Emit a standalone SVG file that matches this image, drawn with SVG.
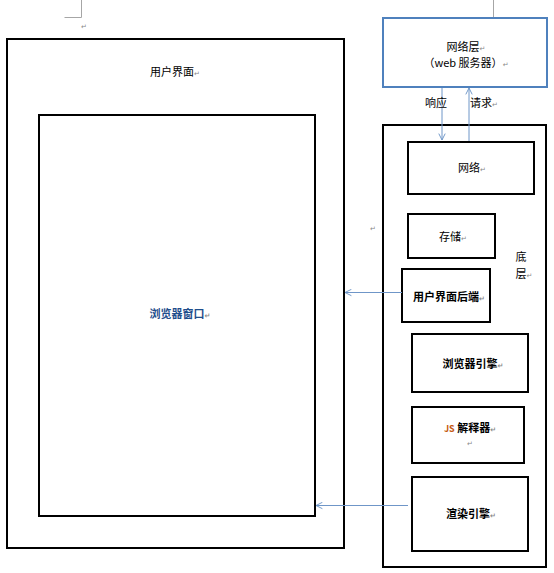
<svg xmlns="http://www.w3.org/2000/svg" width="554" height="573" viewBox="0 0 554 573">
<defs>
<style>
.box{fill:#fff;stroke:#000;stroke-width:2}
.blue{fill:#fff;stroke:#4f81bd;stroke-width:2}
.t{font-family:"Noto Sans CJK SC","Liberation Sans",sans-serif;font-size:11px;fill:#000;text-anchor:middle}
.b{font-weight:bold}
.pm{font-family:"DejaVu Sans",sans-serif;font-size:7px;fill:#888}
.crop{stroke:#a6a6a6;stroke-width:1;fill:none}
.con{stroke:#6f96c8;stroke-width:1;fill:none}
</style>
<marker id="ah" viewBox="0 0 10 10" refX="9" refY="5" markerWidth="8" markerHeight="8" orient="auto" markerUnits="userSpaceOnUse">
<path d="M1,1 L9,5 L1,9" fill="none" stroke="#6f96c8" stroke-width="1.2"/>
</marker>
</defs>
<rect width="554" height="573" fill="#fff"/>
<path class="crop" d="M64.5,17.5 H81.5 V0"/>
<path class="crop" d="M493.5,0 V17.5 H510"/>
<text class="pm" x="81" y="29">↵</text>
<text class="pm" x="370" y="231">↵</text>

<g id="ui">
<rect class="box" x="7" y="39" width="337" height="509"/>
<text class="t" x="175" y="76">用户界面<tspan class="pm">↵</tspan></text>
</g>
<g id="window">
<rect class="box" x="39" y="115" width="276" height="401"/>
<text class="t b" x="180" y="318" style="fill:#1f4e8c">浏览器窗口<tspan class="pm">↵</tspan></text>
</g>
<g id="network-layer">
<rect class="blue" x="383" y="18" width="164" height="69"/>
<text class="t" x="466" y="51">网络层<tspan class="pm">↵</tspan></text>
<text class="t" x="466" y="67">（web 服务器）<tspan class="pm">↵</tspan></text>
</g>
<g id="bottom-layer">
<rect class="box" x="383" y="125" width="163" height="442"/>
<text class="t" x="521" y="261">底</text>
<text class="t" x="524" y="278">层<tspan class="pm">↵</tspan></text>
</g>
<g id="net">
<rect class="box" x="408" y="142" width="126" height="52"/>
<text class="t" x="472" y="172">网络<tspan class="pm">↵</tspan></text>
</g>
<g id="storage">
<rect class="box" x="408" y="214" width="87" height="44"/>
<text class="t" x="453" y="241">存储<tspan class="pm">↵</tspan></text>
</g>
<g id="ui-backend">
<rect class="box" x="402" y="269" width="88" height="53"/>
<text class="t b" x="449" y="301">用户界面后端<tspan class="pm">↵</tspan></text>
</g>
<g id="browser-engine">
<rect class="box" x="412" y="334" width="116" height="58"/>
<text class="t b" x="473" y="368">浏览器引擎<tspan class="pm">↵</tspan></text>
</g>
<g id="js">
<rect class="box" x="412" y="407" width="112" height="56"/>
<text class="t b" x="470" y="432"><tspan style="font-size:9px;fill:#c55a11">JS</tspan> 解释器<tspan class="pm">↵</tspan></text>
<text class="pm" x="467" y="446">↵</text>
</g>
<g id="render">
<rect class="box" x="412" y="477" width="116" height="74"/>
<text class="t b" x="471" y="518">渲染引擎<tspan class="pm">↵</tspan></text>
</g>

<g id="connectors">
<line class="con" x1="442" y1="88" x2="442" y2="140" marker-end="url(#ah)"/>
<line class="con" x1="469" y1="141" x2="469" y2="88" marker-end="url(#ah)"/>
<line class="con" x1="402" y1="292.5" x2="345" y2="292.5" marker-end="url(#ah)"/>
<line class="con" x1="408" y1="505.5" x2="316" y2="505.5" marker-end="url(#ah)"/>
<text class="t" x="436" y="107">响应</text>
<text class="t" x="484" y="107">请求<tspan class="pm">↵</tspan></text>
</g>
</svg>
